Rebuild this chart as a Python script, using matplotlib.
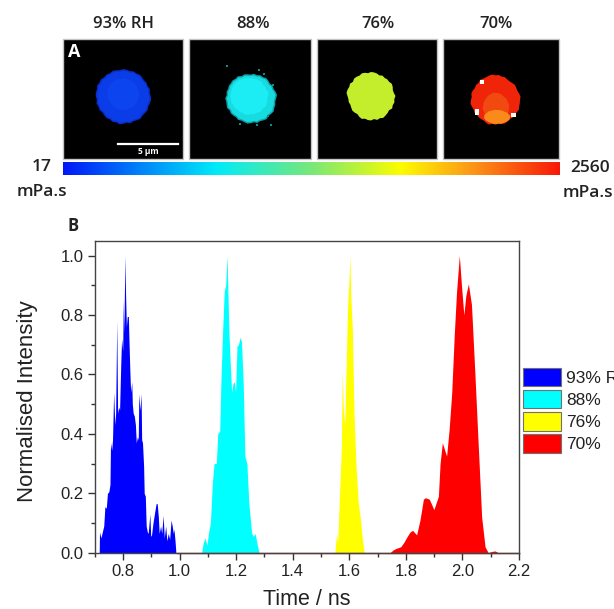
import numpy as np
import matplotlib
matplotlib.use("Agg")
import matplotlib.pyplot as plt
from matplotlib.colors import LinearSegmentedColormap
from matplotlib.patches import Polygon, Rectangle

# ---------- Panel B data ----------
labels_b = ["93% RH", "88%", "76%", "70%"]
colors_b = ["#0000ff", "#00ffff", "#ffff00", "#ff0000"]

t_blue = [.716,.717,.722,.727,.732,.736,.741,.745,.750,.754,.756,.760,.763,.767,.771,.774,.778,.781,.785,.788,
          .792,.795,.799,.801,.803,.807,.809,.812,.815,.819,.821,.824,.827,.831,.833,.836,.840,.844,.847,.851,
          .854,.856,.860,.864,.866,.869,.873,.875,.879,.882,.886,.889,.895,.898,.901,.906,.911,.917,.921,.925,
          .928,.933,.937,.942,.946,.951,.955,.960,.965,.970,.974,.978,.980,.984,.987]
v_blue = [0,.07,.05,.07,.09,.155,.15,.2,.205,.23,.37,.345,.38,.54,.43,.47,.78,.47,.49,.48,
          .63,.72,.68,.85,.74,1.0,.875,.76,.795,.795,.72,.62,.54,.575,.50,.47,.46,.43,.37,.39,
          .38,.535,.48,.535,.38,.37,.29,.20,.19,.09,.07,.065,.13,.055,.06,.1,.13,.165,.165,.12,
          .065,.09,.065,.125,.05,.09,.04,.065,.045,.11,.09,.065,.08,.04,0]

t_cyan = [1.078,1.083,1.090,1.097,1.102,1.109,1.116,1.122,1.130,1.135,1.142,1.146,1.152,1.158,1.163,1.168,1.171,
          1.175,1.179,1.184,1.189,1.194,1.198,1.203,1.208,1.214,1.219,1.225,1.231,1.238,1.245,1.255,1.261,1.267,1.274,1.281]
v_cyan = [0,.03,.05,.025,.065,.1,.235,.30,.30,.40,.41,.57,.74,.88,.90,1.0,.875,
          .73,.64,.54,.57,.575,.54,.695,.70,.725,.71,.57,.325,.30,.165,.065,.055,.065,.03,0]

t_yellow = [1.549,1.555,1.559,1.567,1.572,1.575,1.579,1.584,1.588,1.594,1.599,1.602,1.606,1.611,1.617,1.624,1.632,1.640,1.645,1.653]
v_yellow = [0,.065,.03,.235,.355,.615,.48,.435,.59,.83,.92,1.0,.85,.75,.46,.29,.165,.11,.055,0]

t_red = [1.744,1.756,1.767,1.782,1.793,1.805,1.815,1.824,1.838,1.850,1.862,1.869,1.883,1.899,1.915,1.921,1.929,1.944,
         1.953,1.962,1.971,1.979,1.989,1.997,2.005,2.012,2.021,2.032,2.044,2.056,2.068,2.080,2.091,2.103,2.115,2.127]
v_red = [0,.01,.015,.02,.035,.055,.07,.075,.06,.11,.18,.185,.18,.145,.19,.30,.37,.325,
         .415,.535,.73,.875,1.0,.895,.80,.865,.905,.835,.605,.36,.12,.02,0,.004,.006,0]

# ---------- Panel A data ----------
titles_a = ["93% RH", "88%", "76%", "70%"]
scale_min = "17"
scale_max = "2560"
unit = "mPa.s"
# outline radii (fraction of the mean radius) read round each droplet, every 7.5 degrees
outline_blue = [1.0,.97,1.0,.96,.98,.95,.97,.99,.96,.98,.95,.97,.99,.96,.98,1.0,.97,1.0,.98,1.02,1.0,1.03,.99,1.01,
                1.0,.97,1.01,.98,1.0,.96,.98,1.0,.97,1.01,.98,1.03,1.0,.97,1.01,.98,1.0,1.03,.99,1.0,1.02,.98,1.0,1.02]
outline_cyan = [1.0,1.04,1.01,.97,.99,.95,.98,1.0,.96,.98,.94,.97,.93,.95,.97,.94,1.0,.97,1.0,.98,.99,.96,.98,.95,
                1.0,.97,.98,1.0,.95,.98,.96,.94,.98,.95,.97,1.0,.98,.95,1.0,.97,1.0,1.03,.98,1.01,1.04,1.0,1.0,.97]
outline_yellow = [1.04,.98,.96,1.0,1.02,.97,.98,.95,.98,.93,.97,.99,1.0,.96,1.0,1.02,.98,1.01,1.02,.97,1.03,1.0,1.03,1.05,
                  1.0,.97,.98,.95,.97,1.0,.98,.95,1.0,1.03,.98,1.01,1.02,.97,1.03,1.0,1.05,1.02,1.0,.97,1.04,1.0,1.03,1.0]
outline_red = [1.0,1.03,1.0,.97,.98,1.0,.97,.95,.96,1.0,.98,1.02,1.0,1.04,1.02,1.0,1.0,1.03,.98,1.0,.97,1.0,1.02,.98,
               1.0,1.03,1.0,.97,1.0,.96,.98,.97,.96,1.0,1.03,.97,1.0,.96,1.0,1.02,1.0,.97,1.0,.98,1.0,1.03,1.0,1.0]
# isolated pixels scattered round the 88% droplet, in ns-free image coordinates of that panel (pixels)
specks_cyan_x = [227, 259, 271, 273, 257, 264, 240, 268]
specks_cyan_y = [66, 70, 125, 85, 125, 74, 124, 116]

plt.rcParams["font.family"] = ["Liberation Sans", "DejaVu Sans"]
fig = plt.figure(figsize=(6.14, 6.09), dpi=100)
W, H = 614, 609

# ---------- overlay in pixel coordinates for the image panel ----------
ov = fig.add_axes([0, 0, 1, 1])
ov.axis("off")

panels = [(62.7, 183.3), (189.3, 310.7), (316.7, 436.7), (443.3, 559.3)]
ptop, pbot = 39, 159
for (x0, x1), title in zip(panels, titles_a):
    ov.add_patch(Rectangle((x0, ptop), x1 - x0, pbot - ptop, fc="black", ec="#c4c4c4", lw=1))
title_x = [123.5, 253, 378, 496]
for x, title in zip(title_x, titles_a):
    ov.text(x, 24, title, ha="center", va="center", fontsize=12, fontweight=600, family="Open Sans", color="#222222")

def blob(cx, cy, rx, ry, radii, color, z=3):
    a = np.deg2rad(np.arange(len(radii)) * 360 / len(radii))
    r = np.asarray(radii)
    pts = np.c_[cx + rx * r * np.cos(a), cy - ry * r * np.sin(a)]
    ov.add_patch(Polygon(pts, closed=True, fc=color, ec="none", zorder=z))

blob(123.3, 96.3, 27.5, 27.5, outline_blue, "#0a2cc8")
blob(123.3, 96.3, 26, 26, outline_blue, "#0a3ce8", z=4)
blob(123.3, 94, 16, 16, outline_blue, "#0c44f0", z=5)
blob(250.7, 98.3, 25.5, 25.5, outline_cyan, "#0ea0a8")
blob(250.7, 98.3, 24, 24, outline_cyan, "#16dce0", z=4)
blob(249, 96, 19, 19, outline_cyan, "#1cecf4", z=5)
blob(371, 96, 23.5, 24, outline_yellow, "#c4ee2c")
blob(495.5, 100, 24.5, 24.7, outline_red, "#f02408")
blob(496, 107, 13, 14, outline_red, "#f04a10", z=4)
blob(497, 117, 13, 7, outline_red, "#fb8a1c", z=5)
for px, py, w, h in [(480, 80, 4, 4), (474.5, 109, 4, 6), (511, 113, 5, 4)]:
    ov.add_patch(Rectangle((px, py), w, h, fc="white", ec="none", zorder=6))
ov.scatter(specks_cyan_x, specks_cyan_y, s=1.2, marker="s", color="#0e8a90", lw=0, zorder=4)

ov.plot([118, 178], [144, 144], color="white", lw=1.6, zorder=6)
ov.text(148, 151, "5 µm", color="white", fontsize=6, fontweight="bold", ha="center", va="center",
        family="Open Sans", zorder=6)
ov.text(74, 52, "A", color="white", fontsize=13, fontweight="bold", ha="center", va="center",
        family="Open Sans", zorder=6)

cmap = LinearSegmentedColormap.from_list(
    "visc", [(0, "#0018f8"), (.15, "#0080f8"), (.31, "#00ecf8"), (.5, "#78e878"),
             (.68, "#fcfc00"), (.82, "#fc9a18"), (1, "#f81808")])
ov.imshow(np.linspace(0, 1, 256)[None, :], cmap=cmap, aspect="auto", extent=(62.7, 559.3, 175.5, 163), zorder=2)
ov.set_xlim(0, W)
ov.set_ylim(H, 0)

side = dict(ha="center", va="center", fontsize=12.5, fontweight=600, family="Open Sans", color="#222222")
ov.text(42, 167, scale_min, **side)
ov.text(42, 192, unit, **side)
ov.text(590, 168, scale_max, **side)
ov.text(588, 193, unit, **side)
ov.text(73, 226, "B", ha="center", va="center", fontsize=12, fontweight="bold", family="Open Sans", color="#222222")

# ---------- Panel B ----------
L, R, T, B = 94.7, 519, 240.7, 552.7
ax = fig.add_axes([L / W, 1 - B / H, (R - L) / W, (B - T) / H])
ax.patch.set_alpha(0)
series = [(t_blue, v_blue), (t_cyan, v_cyan), (t_yellow, v_yellow), (t_red, v_red)]
for (t, v), c, lab in zip(series, colors_b, labels_b):
    ax.fill_between(t, 0, v, color=c, lw=0, label=lab)
ax.plot([.99, 2.2], [0, 0], color="#a03030", lw=1, zorder=1.5, clip_on=False)

ax.set_xlim(.7, 2.2)
ax.set_ylim(0, 1.05)
ax.set_xticks(np.arange(.8, 2.21, .2))
ax.set_xticks(np.arange(.7, 2.21, .1), minor=True)
ax.set_yticks(np.arange(0, 1.01, .2))
ax.set_yticks(np.arange(0, 1.01, .1), minor=True)
ax.tick_params(which="major", length=5, width=1, labelsize=12, color="#333333", labelcolor="#222222", pad=3)
ax.tick_params(which="minor", length=3, width=1, color="#333333")
for s in ax.spines.values():
    s.set_color("#444444")
    s.set_linewidth(1)
ax.set_xlabel("Time / ns", fontsize=15.5, color="#222222", labelpad=7)
ax.set_ylabel("Normalised Intensity", fontsize=16, color="#222222", labelpad=16, y=.485)

leg = ax.legend(loc="upper left", bbox_to_anchor=(522.7 / W, 1 - 367.5 / H), bbox_transform=fig.transFigure,
                frameon=False, fontsize=12.5, borderpad=0, borderaxespad=0, handlelength=2.19, handleheight=1.3,
                labelspacing=.18, handletextpad=.3)
for h in leg.get_patches():
    h.set_edgecolor("#707070")
    h.set_linewidth(.8)
for tx in leg.get_texts():
    tx.set_color("#222222")

fig.savefig("out.png", dpi=100)
